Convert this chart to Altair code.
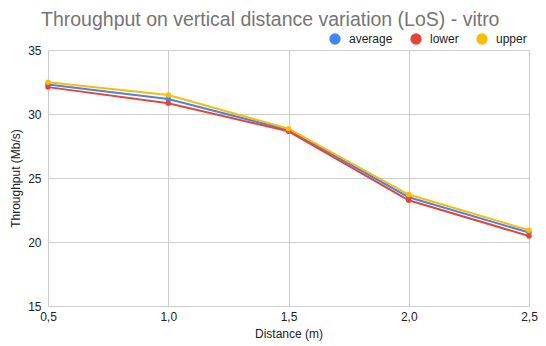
import altair as alt
import pandas as pd

distance = [0.5, 1.0, 1.5, 2.0, 2.5]
average = [32.3, 31.17, 28.75, 23.5, 20.74]
lower = [32.1, 30.84, 28.65, 23.26, 20.47]
upper = [32.48, 31.49, 28.85, 23.71, 20.92]

series_names = ["average", "lower", "upper"]
series_colors = ["#4285F4", "#EA4335", "#FBBC04"]

rows = []
for name, vals in zip(series_names, [average, lower, upper]):
    for d, v in zip(distance, vals):
        rows.append({"Distance": d, "Throughput": v, "series": name})
df = pd.DataFrame(rows)

chart = alt.Chart(df).mark_line(
    strokeWidth=2,
    point=alt.OverlayMarkDef(filled=True, size=30),
).encode(
    x=alt.X("Distance:Q",
            scale=alt.Scale(domain=[0.5, 2.5], nice=False, zero=False),
            axis=alt.Axis(title="Distance (m)", values=distance,
                          labelExpr="replace(format(datum.value, '.1f'), '.', ',')",
                          ticks=False, domain=False, labelPadding=5,
                          labelFlush=False, titlePadding=6)),
    y=alt.Y("Throughput:Q",
            scale=alt.Scale(domain=[15, 35], nice=False, zero=False),
            axis=alt.Axis(title="Throughput (Mb/s)", values=[15, 20, 25, 30, 35],
                          ticks=False, domain=False, labelPadding=7,
                          labelFlush=False, titlePadding=5)),
    color=alt.Color("series:N",
                    scale=alt.Scale(domain=series_names, range=series_colors),
                    legend=alt.Legend(title=None, orient="none", direction="horizontal",
                                      legendX=281, legendY=-17, symbolType="circle",
                                      symbolSize=128, symbolStrokeWidth=0,
                                      labelOffset=8, columnPadding=17,
                                      labelFontSize=12, labelColor="#222222",
                                      labelFont="Liberation Sans")),
).properties(
    width=481,
    height=256,
    title=alt.TitleParams("Throughput on vertical distance variation (LoS) - vitro",
                          anchor="start", frame="group", dx=-7, offset=3,
                          fontSize=19.5, font="Liberation Sans", fontWeight="normal",
                          color="#757575"),
    padding={"left": 40, "top": 42, "right": 9, "bottom": 38},
    autosize=alt.AutoSizeParams(type="none"),
).configure_axis(
    gridColor="#cccccc",
    gridWidth=1,
    labelFont="Liberation Sans",
    labelFontSize=12,
    labelColor="#222222",
    titleFont="Liberation Sans",
    titleFontSize=12,
    titleFontWeight="normal",
    titleColor="#222222",
).configure_view(
    stroke=None,
)

chart.save("out.html", embed_options={"renderer": "svg", "actions": False})
